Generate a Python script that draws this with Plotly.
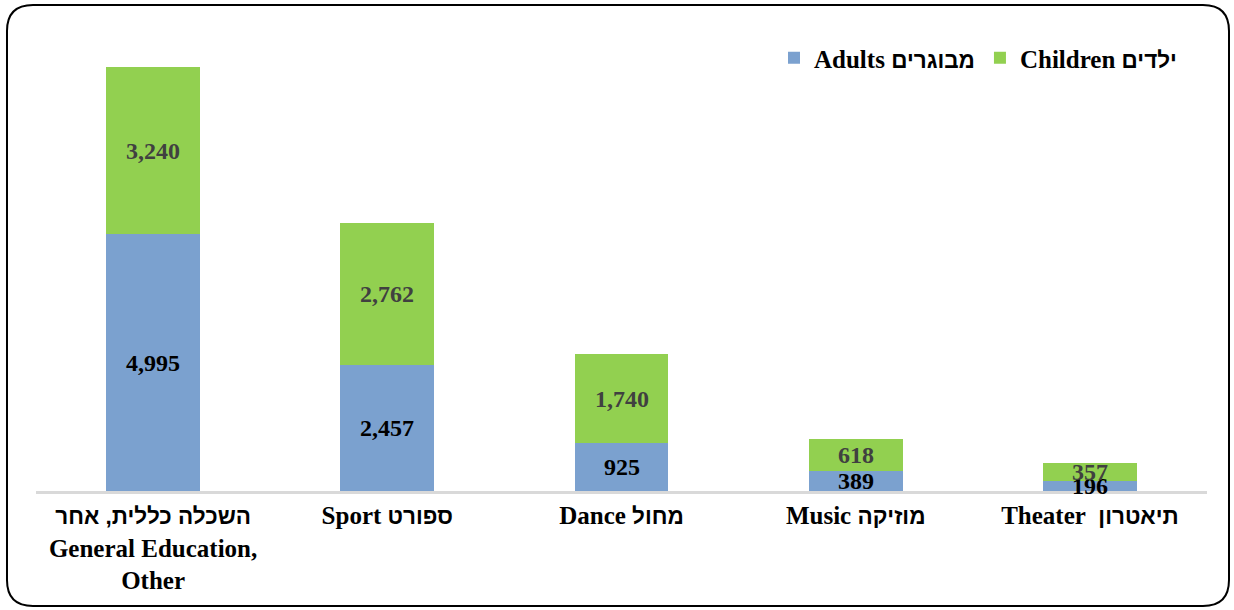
import re
import plotly.graph_objects as go

categories = [
    "השכלה כללית, אחר<br>General Education,<br>Other",
    "Sport ספורט",
    "Dance מחול",
    "Music מוזיקה",
    "Theater\u00a0 תיאטרון",
]
adults = [4995, 2457, 925, 389, 196]
children = [3240, 2762, 1740, 618, 357]
series_names = ["Adults מבוגרים", "Children ילדים"]

W, H = 1234, 610
L, R, T, B = 36, 27, 28, 119
FONT = "Liberation Serif, DejaVu Sans, sans-serif"
HEB_FONT = "Liberation Sans"


def heb(s, size=22.5):
    # render Hebrew runs in a sans face with bold Hebrew glyphs
    return re.sub(r"([\u0590-\u05FF][\u0590-\u05FF ,]*[\u0590-\u05FF])",
                  lambda m: f"<span style=\"font-family:'{HEB_FONT}';font-size:{size}px\">{m.group(1)}</span>", s)


cat_labels = [heb(c) for c in categories]

fig = go.Figure()
fig.add_trace(go.Bar(
    x=cat_labels, y=adults, name=heb(series_names[0]),
    marker=dict(color="#7BA1CF", line=dict(width=0)),
))
fig.add_trace(go.Bar(
    x=cat_labels, y=children, name=heb(series_names[1]),
    marker=dict(color="#92D050", line=dict(width=0)),
))

annotations = []
for c, a, ch in zip(cat_labels, adults, children):
    annotations.append(dict(x=c, y=a / 2, xref="x", yref="y", text=f"{a:,}",
                            showarrow=False, yanchor="middle",
                            font=dict(family=FONT, size=24, color="#000000", weight="bold")))
    annotations.append(dict(x=c, y=a + ch / 2, xref="x", yref="y", text=f"{ch:,}",
                            showarrow=False, yanchor="middle",
                            font=dict(family=FONT, size=24, color="#404040", weight="bold")))

pw = W - L - R
ph = H - T - B


def P(x, y):
    a, b = (x - L) / pw, (H - B - y) / ph
    return f"{a:.5f},{b:.5f}"


# rounded border
x0, y0, x1, y1, r = 7, 5, 1229, 606, 26
path = (
    f"M {P(x0 + r, y0)} L {P(x1 - r, y0)} Q {P(x1, y0)} {P(x1, y0 + r)} "
    f"L {P(x1, y1 - r)} Q {P(x1, y1)} {P(x1 - r, y1)} "
    f"L {P(x0 + r, y1)} Q {P(x0, y1)} {P(x0, y1 - r)} "
    f"L {P(x0, y0 + r)} Q {P(x0, y0)} {P(x0 + r, y0)} Z"
)

lx, ly = (1182 - L) / pw, (H - B - 58) / ph

fig.update_layout(
    width=W, height=H,
    margin=dict(l=L, r=R, t=T, b=B),
    barmode="stack", bargap=0.6,
    plot_bgcolor="white", paper_bgcolor="white",
    font=dict(family=FONT, size=25, color="#000000", weight="bold"),
    showlegend=True,
    legend=dict(
        orientation="h", x=lx, y=ly, xanchor="right", yanchor="middle",
        traceorder="normal",
        font=dict(family=FONT, size=25, color="#000000", weight="bold"),
        bgcolor="rgba(0,0,0,0)", itemwidth=30,
    ),
    xaxis=dict(
        showline=True, linecolor="#D9D9D9", linewidth=3, ticks="",
        showgrid=False, zeroline=False, automargin=False,
        tickfont=dict(family=FONT, size=25, color="#000000", weight="bold"),
    ),
    yaxis=dict(range=[0, 9000], visible=False, showgrid=False, zeroline=False),
    annotations=annotations,
    shapes=[dict(type="path", xref="paper", yref="paper", path=path,
                 line=dict(color="black", width=2), fillcolor="rgba(0,0,0,0)",
                 layer="above")],
)

fig.write_html("out.html", config={"displayModeBar": False},
               post_script="document.body.style.margin='0';")
